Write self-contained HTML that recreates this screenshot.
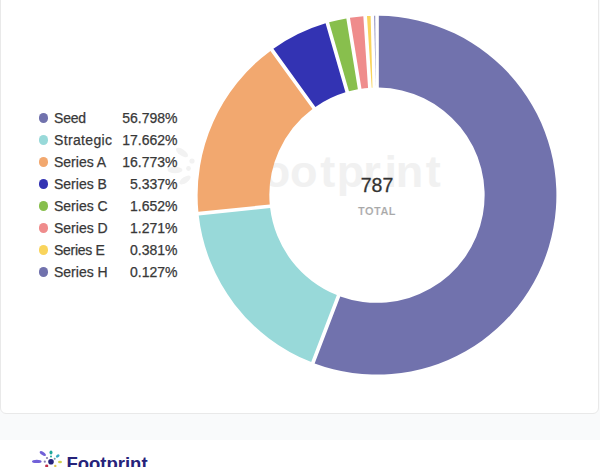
<!DOCTYPE html>
<html><head><meta charset="utf-8">
<style>
html,body{margin:0;padding:0;}
body{width:600px;height:467px;overflow:hidden;background:#fff;position:relative;font-family:"Liberation Sans",sans-serif;}
.bg{position:absolute;left:0;top:0;width:600px;height:440px;background:#F9FAFB;}
.card{position:absolute;left:0;top:-20px;width:597px;height:432px;background:#fff;border:1px solid #E9E9E9;border-radius:6px;}
.foot{position:absolute;left:0;top:440px;width:600px;height:27px;background:#fff;}
.legend{position:absolute;left:0;top:0;}
.row{position:absolute;left:0;height:22px;width:200px;font-size:14px;color:#383838;-webkit-text-stroke:0.25px #383838;}
.dot{position:absolute;left:38.8px;width:9.6px;height:9.6px;border-radius:50%;}
.nm{position:absolute;left:54px;}
.pc{position:absolute;right:22.5px;}
svg{position:absolute;left:0;top:0;}
.val{position:absolute;left:327px;width:100px;text-align:center;top:174px;font-size:19.5px;color:#333;-webkit-text-stroke:0.3px #333;}
.tot{position:absolute;left:327px;width:100px;text-align:center;top:205px;font-size:11px;font-weight:bold;color:#A8A8A8;letter-spacing:0.5px;-webkit-text-stroke:0.15px #fff;}
.wm{position:absolute;left:0;top:148.7px;font-size:45px;line-height:1;font-weight:bold;color:#F1F1F1;}
.wm span{position:absolute;top:0;}
.brand{position:absolute;left:66.4px;top:453px;font-size:18.5px;font-weight:bold;color:#26237A;}
</style></head><body>
<div class="bg"></div>
<div class="card"></div>
<div class="wm"><span style="left:234px">F</span><span style="left:262.7px">o</span><span style="left:290px">o</span><span style="left:320.3px">t</span><span style="left:336.7px">p</span><span style="left:363.3px">r</span><span style="left:384.4px">i</span><span style="left:395.7px">n</span><span style="left:425.8px">t</span></div>
<svg width="600" height="467" style="position:absolute;left:0;top:0">
<g fill="#F2F2F2">
<ellipse cx="182" cy="152.5" rx="7" ry="3.2" transform="rotate(35 182 152.5)"/>
<circle cx="192" cy="161" r="2.6"/>
<circle cx="188.5" cy="168.5" r="2.4"/>
<ellipse cx="175" cy="170" rx="7.5" ry="3.2"/>
<ellipse cx="185" cy="180" rx="6.5" ry="3" transform="rotate(-35 185 180)"/>
</g></svg>
<svg width="600" height="467" viewBox="0 0 600 467">
<path fill="#7172AD" d="M378.826,15.809A179.400,179.400 0 1 1 314.631,363.410L340.264,296.377A107.640,107.640 0 1 0 378.826,87.575Z"/>
<path fill="#98D9D9" d="M311.220,362.105A179.400,179.400 0 0 1 198.748,215.467L270.134,208.085A107.640,107.640 0 0 0 336.854,295.073Z"/>
<path fill="#F2A86F" d="M198.373,211.835A179.400,179.400 0 0 1 270.424,50.888L312.469,109.049A107.640,107.640 0 0 0 269.758,204.453Z"/>
<path fill="#3333B3" d="M273.384,48.749A179.400,179.400 0 0 1 325.567,23.331L345.441,92.290A107.640,107.640 0 0 0 315.428,106.909Z"/>
<path fill="#88BF4D" d="M329.076,22.320A179.400,179.400 0 0 1 346.325,18.442L357.876,89.272A107.640,107.640 0 0 0 348.950,91.279Z"/>
<path fill="#EF8C8C" d="M349.929,17.854A179.400,179.400 0 0 1 363.326,16.322L368.068,87.931A107.640,107.640 0 0 0 361.480,88.685Z"/>
<path fill="#F9D45C" d="M366.970,16.081A179.400,179.400 0 0 1 370.645,15.913L372.457,87.656A107.640,107.640 0 0 0 371.711,87.690Z"/>
<path fill="#7172AD" d="M374.295,15.820A179.400,179.400 0 0 1 375.174,15.809L375.641,87.569Z"/>

</svg>
<div class="val">787</div>
<div class="tot">TOTAL</div>
<div class="legend">
<div class="row" style="top:107px"><span class="dot" style="top:6.2px;background:#7172AD"></span><span class="nm" style="top:3px;letter-spacing:-0.2px">Seed</span><span class="pc" style="top:3px">56.798%</span></div>
<div class="row" style="top:129px"><span class="dot" style="top:6.2px;background:#98D9D9"></span><span class="nm" style="top:3px;letter-spacing:0.35px">Strategic</span><span class="pc" style="top:3px">17.662%</span></div>
<div class="row" style="top:151px"><span class="dot" style="top:6.2px;background:#F2A86F"></span><span class="nm" style="top:3px">Series A</span><span class="pc" style="top:3px">16.773%</span></div>
<div class="row" style="top:173px"><span class="dot" style="top:6.2px;background:#3333B3"></span><span class="nm" style="top:3px">Series B</span><span class="pc" style="top:3px">5.337%</span></div>
<div class="row" style="top:195px"><span class="dot" style="top:6.2px;background:#88BF4D"></span><span class="nm" style="top:3px">Series C</span><span class="pc" style="top:3px">1.652%</span></div>
<div class="row" style="top:217px"><span class="dot" style="top:6.2px;background:#EF8C8C"></span><span class="nm" style="top:3px">Series D</span><span class="pc" style="top:3px">1.271%</span></div>
<div class="row" style="top:239px"><span class="dot" style="top:6.2px;background:#F9D45C"></span><span class="nm" style="top:3px;letter-spacing:-0.3px">Series E</span><span class="pc" style="top:3px">0.381%</span></div>
<div class="row" style="top:261px"><span class="dot" style="top:6.2px;background:#7172AD"></span><span class="nm" style="top:3px">Series H</span><span class="pc" style="top:3px">0.127%</span></div>
</div>
<div class="foot"></div>
<div class="brand">Footprint</div>
<svg width="600" height="467" style="position:absolute;left:0;top:0">
<ellipse cx="36.8" cy="461.4" rx="4.8" ry="1.7" fill="#7160D8"/>
<ellipse cx="42.8" cy="453.5" rx="3.6" ry="1.6" fill="#7160D8" transform="rotate(35 42.8 453.5)"/>
<circle cx="47" cy="458" r="1.1" fill="#8A7FB0"/>
<circle cx="44.8" cy="461.7" r="1.1" fill="#8A7FB0"/>
<ellipse cx="51" cy="452.5" rx="1.5" ry="2.1" fill="#1FA89A"/>
<circle cx="51" cy="456.6" r="1" fill="#1FA89A"/>
<ellipse cx="57.7" cy="456" rx="2.1" ry="1.4" fill="#38AAC4" transform="rotate(-40 57.7 456)"/>
<circle cx="54.7" cy="458.7" r="1" fill="#6FA0A8"/>
<ellipse cx="60" cy="462" rx="2" ry="1.3" fill="#D2D04C"/>
<circle cx="51" cy="461.7" r="2.8" fill="#27247D"/>
<ellipse cx="46.7" cy="466" rx="1.6" ry="1.4" fill="#C0304A"/>
<circle cx="55.3" cy="466" r="1.2" fill="#E0C850"/>
</svg>
</body></html>
